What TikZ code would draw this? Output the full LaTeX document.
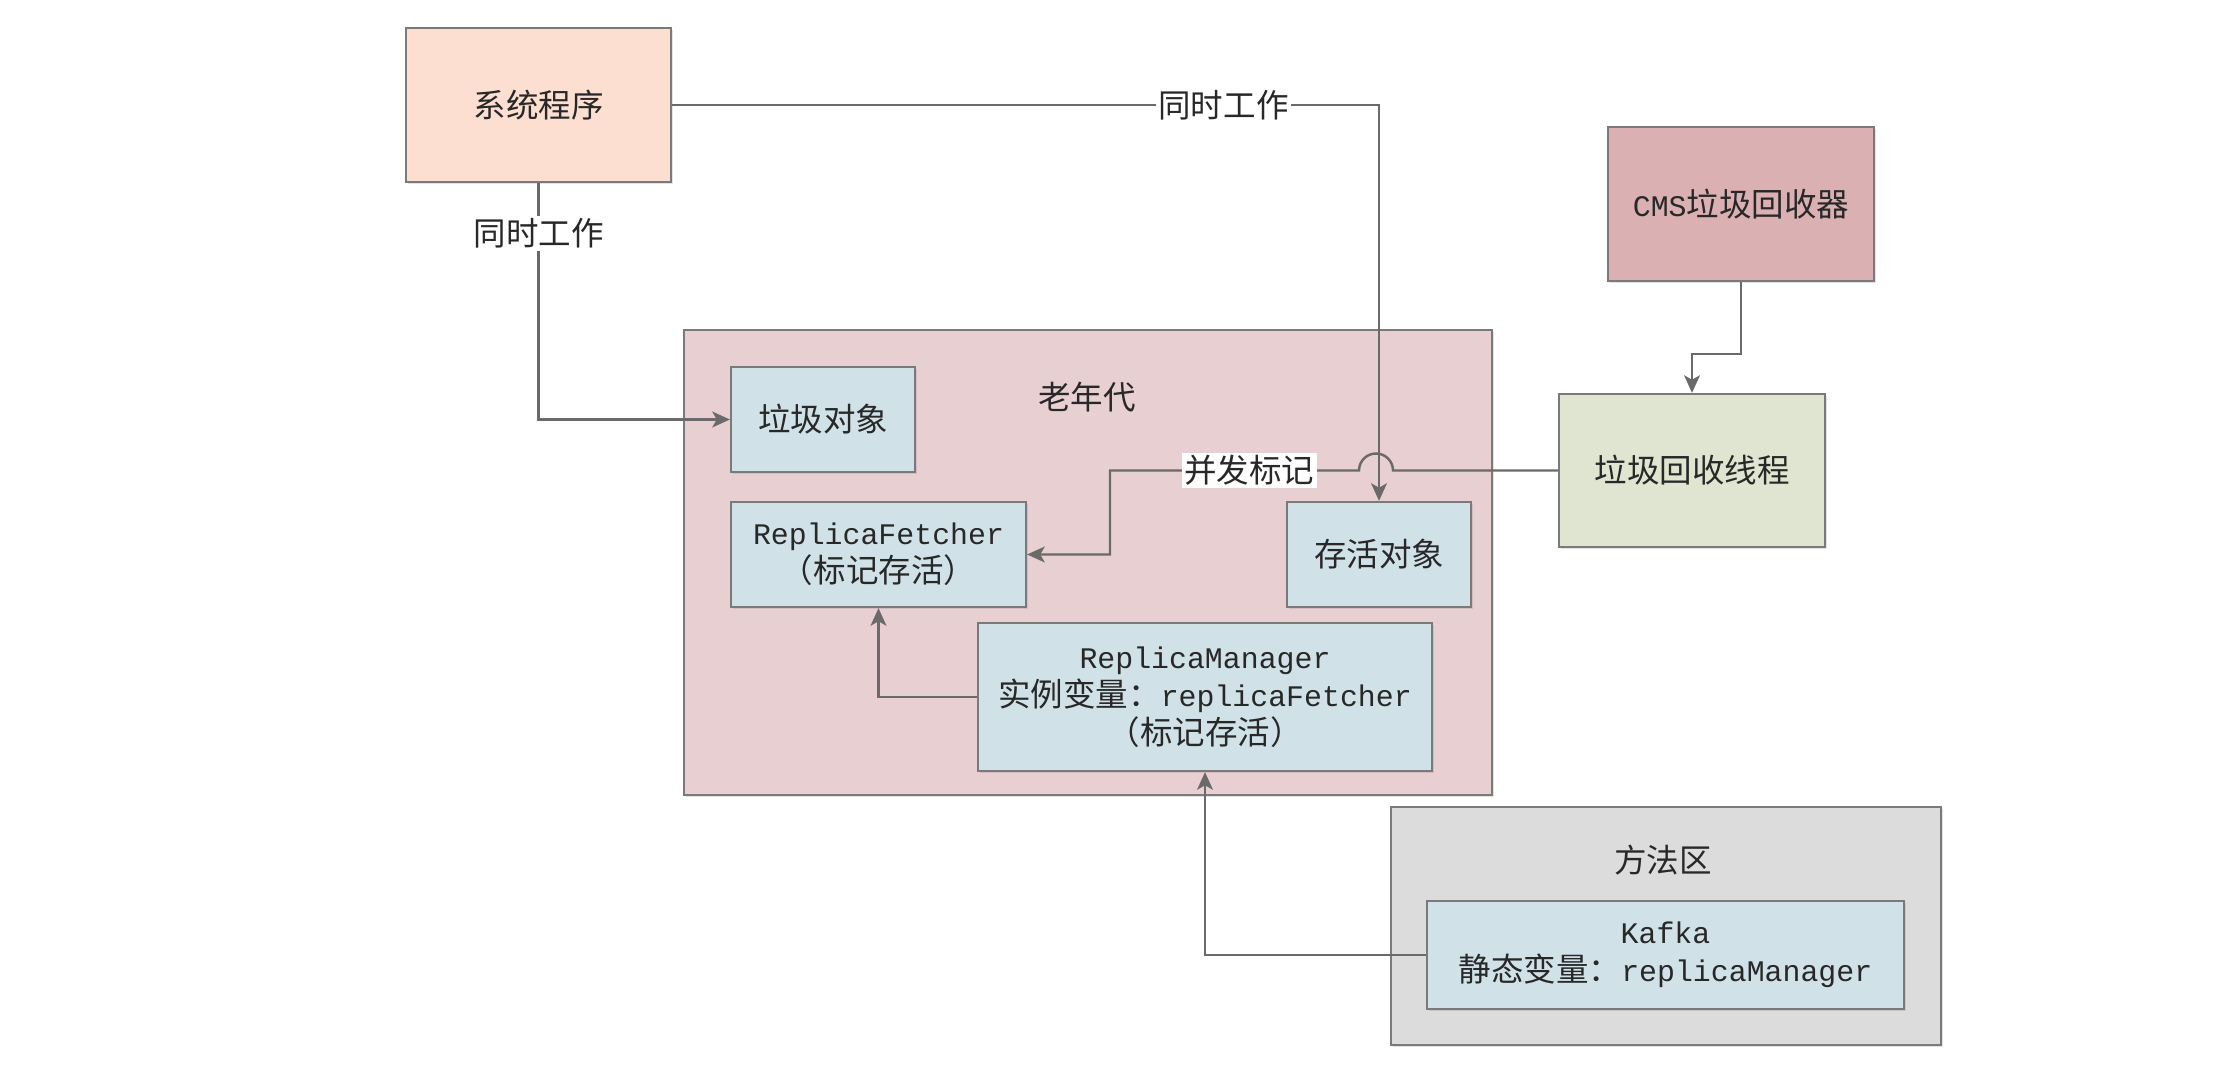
\documentclass[tikz,border=0pt]{standalone}
\usepackage{fontspec}
\setmainfont{Noto Sans CJK SC}
\setmonofont{Liberation Mono}
\usetikzlibrary{arrows.meta,shadows}
\definecolor{bordc}{HTML}{7A7A7A}
\definecolor{linec}{HTML}{6A6A6A}
\definecolor{txtc}{HTML}{282828}
\definecolor{sysc}{HTML}{FDDFD1}
\definecolor{oldc}{HTML}{E8CFD1}
\definecolor{bluec}{HTML}{D0E2E8}
\definecolor{cmsc}{HTML}{DBB0B2}
\definecolor{gctc}{HTML}{DFE5D0}
\definecolor{methc}{HTML}{DCDCDC}
\newcommand\mtt[1]{{\fontsize{17}{21.5}\ttfamily #1}}
\begin{document}
\begin{tikzpicture}[x=0.02cm,y=-0.02cm,
  box/.style={draw=bordc, line width=1.3pt, text=txtc, align=center, inner sep=0pt,
    drop shadow={shadow xshift=1.2pt,shadow yshift=-1.2pt,opacity=0.22},
    font=\fontsize{18.5}{21.5}\selectfont},
  ttl/.style={text=txtc, inner sep=0pt, font=\fontsize{18.5}{21.5}\selectfont},
  conn/.style={draw=linec, line width=1.4pt},
  arr/.style={conn, -{Stealth[length=10pt,width=9pt,inset=2.5pt]}},
  lbl/.style={fill=white, inner sep=1.5pt, text=txtc, font=\fontsize{18.5}{21.5}\selectfont}]
\useasboundingbox (0,0) rectangle (2238,1070);

% containers
\node[box, fill=oldc, minimum width=16.16cm, minimum height=9.30cm] (old) at (1088,562.5) {};
\node[ttl] (oldt) at (1087,397) {老年代};
\node[box, fill=methc, minimum width=11.00cm, minimum height=4.76cm] (meth) at (1666,926) {};
\node[ttl] (metht) at (1663,860) {方法区};

% boxes
\node[box, fill=sysc, minimum width=5.30cm, minimum height=3.08cm] (sys) at (538.5,105) {系统程序};
\node[box, fill=cmsc, minimum width=5.32cm, minimum height=3.08cm] (cms) at (1741,204) {\mtt{CMS}垃圾回收器};
\node[box, fill=gctc, minimum width=5.32cm, minimum height=3.06cm] (gct) at (1692,470.5) {垃圾回收线程};
\node[box, fill=bluec, minimum width=3.68cm, minimum height=2.10cm] (garb) at (823,419.5) {垃圾对象};
\node[box, fill=bluec, minimum width=5.90cm, minimum height=2.10cm] (rf) at (878.5,554.5) {\mtt{ReplicaFetcher}\\（标记存活）};
\node[box, fill=bluec, minimum width=3.68cm, minimum height=2.10cm] (alive) at (1379,554.5) {存活对象};
\node[box, fill=bluec, minimum width=9.08cm, minimum height=2.96cm] (rm) at (1205,697) {\mtt{ReplicaManager}\\实例变量：\mtt{replicaFetcher}\\（标记存活）};
\node[box, fill=bluec, minimum width=9.54cm, minimum height=2.16cm] (kafka) at (1665.5,955) {\mtt{Kafka}\\静态变量：\mtt{replicaManager}};

% connectors
\draw[arr] (sys.east) -- node[lbl, pos=0.78] {同时工作} (alive.north |- sys.east) -- (alive.north);
\draw[arr] (sys.south) -- node[lbl, pos=0.214] {同时工作} (sys.south |- garb.west) -- (garb.west);
\draw[arr] (cms.south) -- ++(0,72) -| (gct.north);
\coordinate (hopR) at (1393,470.5);
\coordinate (turn) at (1110,470.5);
\draw[arr] (gct.west) -- (hopR) arc[start angle=0, end angle=180, radius=0.34cm]
  -- node[lbl, pos=0.44] {并发标记} (turn) |- (rf.east);
\draw[arr] (rm.west) -| (rf.south);
\draw[arr] (kafka.west) -| (rm.south);
\end{tikzpicture}
\end{document}
